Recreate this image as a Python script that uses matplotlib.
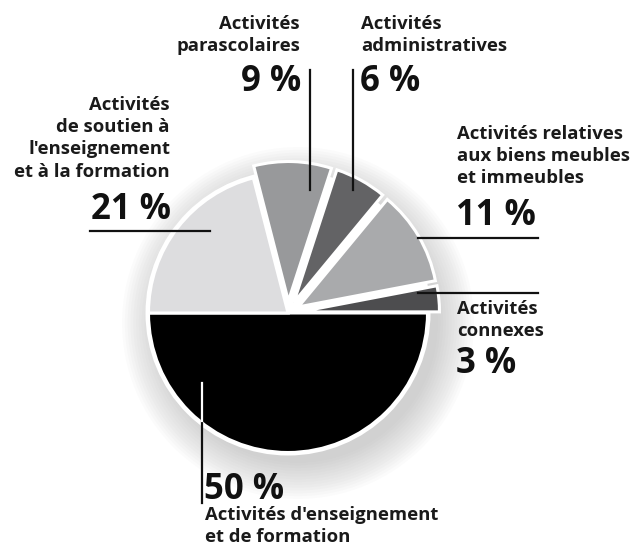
import numpy as np
import matplotlib.pyplot as plt
from matplotlib.patches import Circle

# Répartition des dépenses par activité (%)
parts = [50, 3, 11, 6, 9, 21]
noms = ["Activités d'enseignement\net de formation",
        "Activités\nconnexes",
        "Activités relatives\naux biens meubles\net immeubles",
        "Activités\nadministratives",
        "Activités\nparascolaires",
        "Activités\nde soutien à\nl'enseignement\net à la formation"]
couleurs = ["#000000", "#4d4d4f", "#a9aaac", "#636365", "#98999b", "#dddddf"]
eclatement = [0, 12, 12, 12, 12, 0]   # en pixels (unités des axes)

W, H = 635, 554
plt.rcParams['font.family'] = ['Open Sans', 'DejaVu Sans']

fig = plt.figure(figsize=(W / 100, H / 100), dpi=100)
ax = fig.add_axes([0, 0, 1, 1])


def Y(y):
    return H - y


cx, cy, r = 288, Y(313), 139.5

# ombre douce autour du camembert
for k in range(14):
    rr = r + k * 2.8
    ax.add_patch(Circle((cx + 10, cy - 10), rr, color='#a0a0a0',
                        alpha=0.04, lw=0, zorder=0))
ax.add_patch(Circle((cx, cy), r + 3, color='white', lw=0, zorder=0.5))

ax.pie(parts, colors=couleurs, explode=eclatement, startangle=180,
       counterclock=True, center=(cx, cy), radius=r, frame=True,
       wedgeprops=dict(edgecolor='white', linewidth=2.2))
ax.set_xlim(0, W)
ax.set_ylim(0, H)
ax.set_aspect('equal')
ax.axis('off')

txt = dict(fontsize=13.3, fontweight='bold', color='#1a1a1a', linespacing=1.3)
pct = dict(fontsize=25, fontweight='bold', color='#111111')
ligne = dict(color='#111111', lw=1.6, zorder=5)

# 9 %
ax.text(300, Y(15), noms[4], ha='right', va='top', multialignment='right', **txt)
ax.text(301, Y(64), f"{parts[4]} %", ha='right', va='top', **pct)
ax.plot([310, 310], [Y(70), Y(190)], **ligne)

# 6 %
ax.text(361, Y(15), noms[3], ha='left', va='top', **txt)
ax.text(360, Y(64), f"{parts[3]} %", ha='left', va='top', **pct)
ax.plot([353, 353], [Y(70), Y(190)], **ligne)

# 11 %
ax.text(457, Y(125), noms[2], ha='left', va='top', **txt)
ax.text(456, Y(198), f"{parts[2]} %", ha='left', va='top', **pct)
ax.plot([418, 538], [Y(238), Y(238)], **ligne)

# 3 %
ax.plot([418, 538], [Y(293), Y(293)], **ligne)
ax.text(457, Y(300), noms[1], ha='left', va='top', **txt)
ax.text(456, Y(346), f"{parts[1]} %", ha='left', va='top', **pct)

# 21 %
ax.text(170, Y(96), noms[5], ha='right', va='top', multialignment='right', **txt)
ax.text(171, Y(192), f"{parts[5]} %", ha='right', va='top', **pct)
ax.plot([90, 210], [Y(231), Y(231)], **ligne)

# 50 %
ax.plot([202, 202], [Y(383), Y(503)], **ligne)
ax.plot([202, 202], [Y(383), Y(421)], color='white', lw=1.6, zorder=6)
ax.text(204, Y(472), f"{parts[0]} %", ha='left', va='top', **pct)
ax.text(205, Y(506), noms[0], ha='left', va='top', **txt)

fig.savefig('out.png', dpi=100, facecolor='white')
